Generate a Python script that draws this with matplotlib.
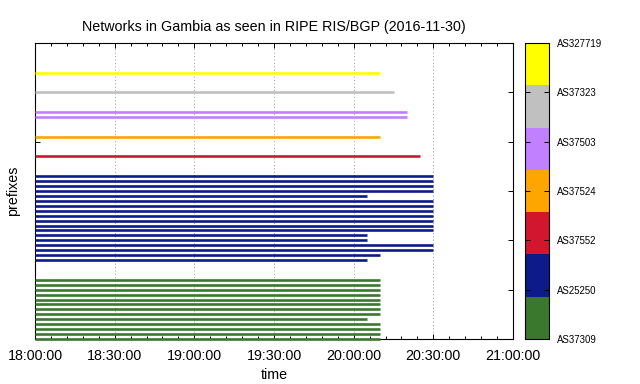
import matplotlib
matplotlib.use('Agg')
import matplotlib.pyplot as plt
import numpy as np
from matplotlib.colors import ListedColormap, Normalize
from matplotlib.colorbar import ColorbarBase

plt.rcParams['font.family'] = ['Liberation Sans', 'DejaVu Sans']

# networks, bottom to top
asns = ['AS37309', 'AS25250', 'AS37552', 'AS37524', 'AS37503', 'AS37323', 'AS327719']
colors = ['#3a782e', '#0c1a8a', '#d2162e', '#ffa500', '#c080ff', '#c0c0c0', '#ffff00']

# end time of each prefix, minutes after 18:00 (all start at 18:00)
ends_37309 = [130, 130, 130, 130, 125, 130, 130, 130, 130, 130, 130, 130, 130]
ends_25250 = [125, 130, 150, 150, 125, 125, 150, 150, 150, 150, 150, 150, 150,
              125, 150, 150, 150, 150]
ends_37552 = [145]
ends_37524 = [130]
ends_37503 = [140, 140]
ends_37323 = [135]
ends_327719 = [130]
groups = [ends_37309, ends_25250, ends_37552, ends_37524, ends_37503, ends_37323, ends_327719]

xtick_vals = [0, 30, 60, 90, 120, 150, 180]
xtick_labels = ['18:00:00', '18:30:00', '19:00:00', '19:30:00', '20:00:00', '20:30:00', '21:00:00']

fig = plt.figure(figsize=(6.4, 3.84), dpi=100)
ax = fig.add_axes([35/640, 1-339/384, 478/640, 296/384])

row = 0
for ends, c in zip(groups, colors):
    for e in ends:
        ax.hlines(row, 0, e, color=c, lw=1.9, capstyle='butt', zorder=3, clip_on=False)
        row += 1
    row += 3

ax.set_xlim(0, 180)
ax.set_ylim(0, 60)
ax.set_xticks(xtick_vals)
ax.set_xticklabels(xtick_labels, fontsize=10.3)
ax.set_xticks(np.arange(0, 181, 6), minor=True)
ax.set_yticks(np.arange(0, 61, 10))
ax.set_yticklabels([])
ax.tick_params(which='both', direction='in', top=True, right=True, width=0.7, color='black')
ax.tick_params(which='major', length=3.5)
ax.tick_params(which='minor', length=2)
ax.tick_params(axis='x', pad=7)
for s in ax.spines.values():
    s.set_linewidth(0.8)
ax.grid(axis='x', which='major', color='#999999', linestyle=(0, (1, 2.5)), lw=0.7)
ax.set_axisbelow(True)

ax.set_title('Networks in Gambia as seen in RIPE RIS/BGP (2016-11-30)', fontsize=10.3, pad=9)
ax.set_xlabel('time', fontsize=10.3, labelpad=4)
ax.set_ylabel('prefixes', fontsize=10.3, labelpad=7)

cax = fig.add_axes([524.5/640, 1-339/384, 24/640, 296/384])
cb = ColorbarBase(cax, cmap=ListedColormap(colors), norm=Normalize(0, 6), ticks=range(7))
cb.set_ticklabels(asns)
cb.outline.set_linewidth(0.8)
cax.tick_params(direction='in', left=True, right=True, length=3.5, width=0.7, labelsize=6.9, pad=6)

fig.savefig('out.png', dpi=100)
